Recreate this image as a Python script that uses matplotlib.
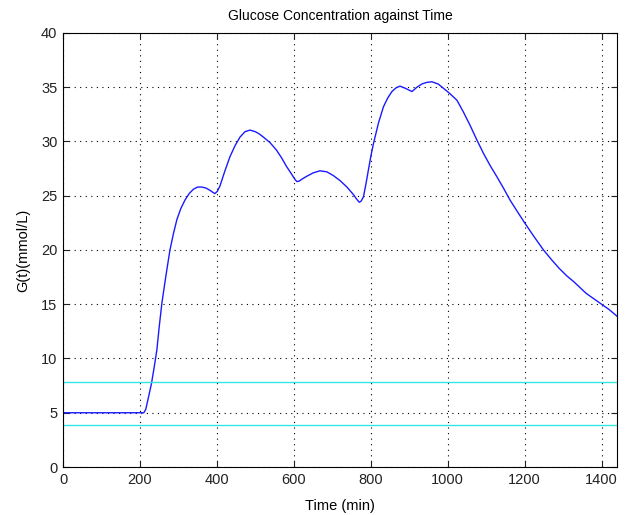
import matplotlib
matplotlib.use('Agg')
import matplotlib.pyplot as plt
import numpy as np

plt.rcParams['font.family'] = ['Liberation Sans', 'DejaVu Sans']

# glucose curve (time in min, G in mmol/L)
time = [0, 100, 210, 215, 222, 230, 237, 244, 250, 257, 264, 270, 278, 287, 296,
        306, 317, 328, 339, 350, 361, 372, 382, 390, 395, 401, 408, 420, 434,
        447, 460, 473, 486, 500, 510, 521, 538, 555, 568, 581, 594, 603, 608,
        614, 622, 634, 650, 668, 686, 703, 720, 738, 755, 763, 770, 775, 781,
        787, 794, 800, 807, 820, 833, 844, 855, 866, 876, 890, 907, 920, 933,
        946, 959, 975, 989, 1006, 1024, 1041, 1058, 1075, 1093, 1110, 1127,
        1145, 1162, 1180, 1200, 1225, 1249, 1270, 1290, 1310, 1327, 1345,
        1360, 1380, 1396, 1420, 1440]
glucose = [5.0, 5.0, 5.0, 5.3, 6.4, 7.7, 9.2, 10.8, 12.9, 15.1, 16.8, 18.2, 20.0, 21.5, 22.8,
           23.8, 24.6, 25.2, 25.6, 25.8, 25.8, 25.7, 25.5, 25.3, 25.2, 25.4, 25.9, 27.2, 28.6,
           29.6, 30.4, 30.9, 31.05, 30.9, 30.7, 30.4, 29.9, 29.2, 28.5, 27.7, 27.0, 26.5, 26.3,
           26.35, 26.55, 26.8, 27.1, 27.3, 27.2, 26.85, 26.4, 25.8, 25.1, 24.7, 24.4, 24.5, 24.9,
           26.0, 27.4, 28.6, 29.8, 31.7, 33.2, 34.0, 34.6, 34.95, 35.1, 34.9, 34.6, 35.0, 35.3,
           35.45, 35.5, 35.3, 34.9, 34.4, 33.8, 32.7, 31.5, 30.2, 28.9, 27.8, 26.8,
           25.7, 24.6, 23.6, 22.5, 21.2, 20.0, 19.1, 18.3, 17.6, 17.1, 16.5,
           16.0, 15.5, 15.1, 14.5, 13.9]

# reference band limits
band_upper = 7.8
band_lower = 3.9

fig = plt.figure(figsize=(6.27, 5.15), dpi=100, facecolor='white')
ax = fig.add_axes([0.1005, 0.0932, 0.8835, 0.8428])

ax.plot(time, glucose, color=(0.1, 0.1, 1), linewidth=1.0)
ax.axhline(band_upper, color=(0.2, 0.9, 0.9), linewidth=1.0)
ax.axhline(band_lower, color=(0.2, 0.9, 0.9), linewidth=1.0)

ax.set_xlim(0, 1440)
ax.set_ylim(0, 40)
ax.set_xticks(np.arange(0, 1401, 200))
ax.set_yticks(np.arange(0, 41, 5))

ax.grid(True, color='black', linestyle=(0, (1, 4)), linewidth=0.8)
ax.tick_params(direction='in', top=True, right=True, length=4, labelsize=10.5,
               pad=4, colors='#222222')
for s in ax.spines.values():
    s.set_linewidth(0.8)

ax.set_title('Glucose Concentration against Time', fontsize=10, pad=9)
ax.set_xlabel('Time (min)', fontsize=10.5, labelpad=9)
ax.set_ylabel('G(t)(mmol/L)', fontsize=10.5, labelpad=8)

fig.savefig('out.png', dpi=100)
